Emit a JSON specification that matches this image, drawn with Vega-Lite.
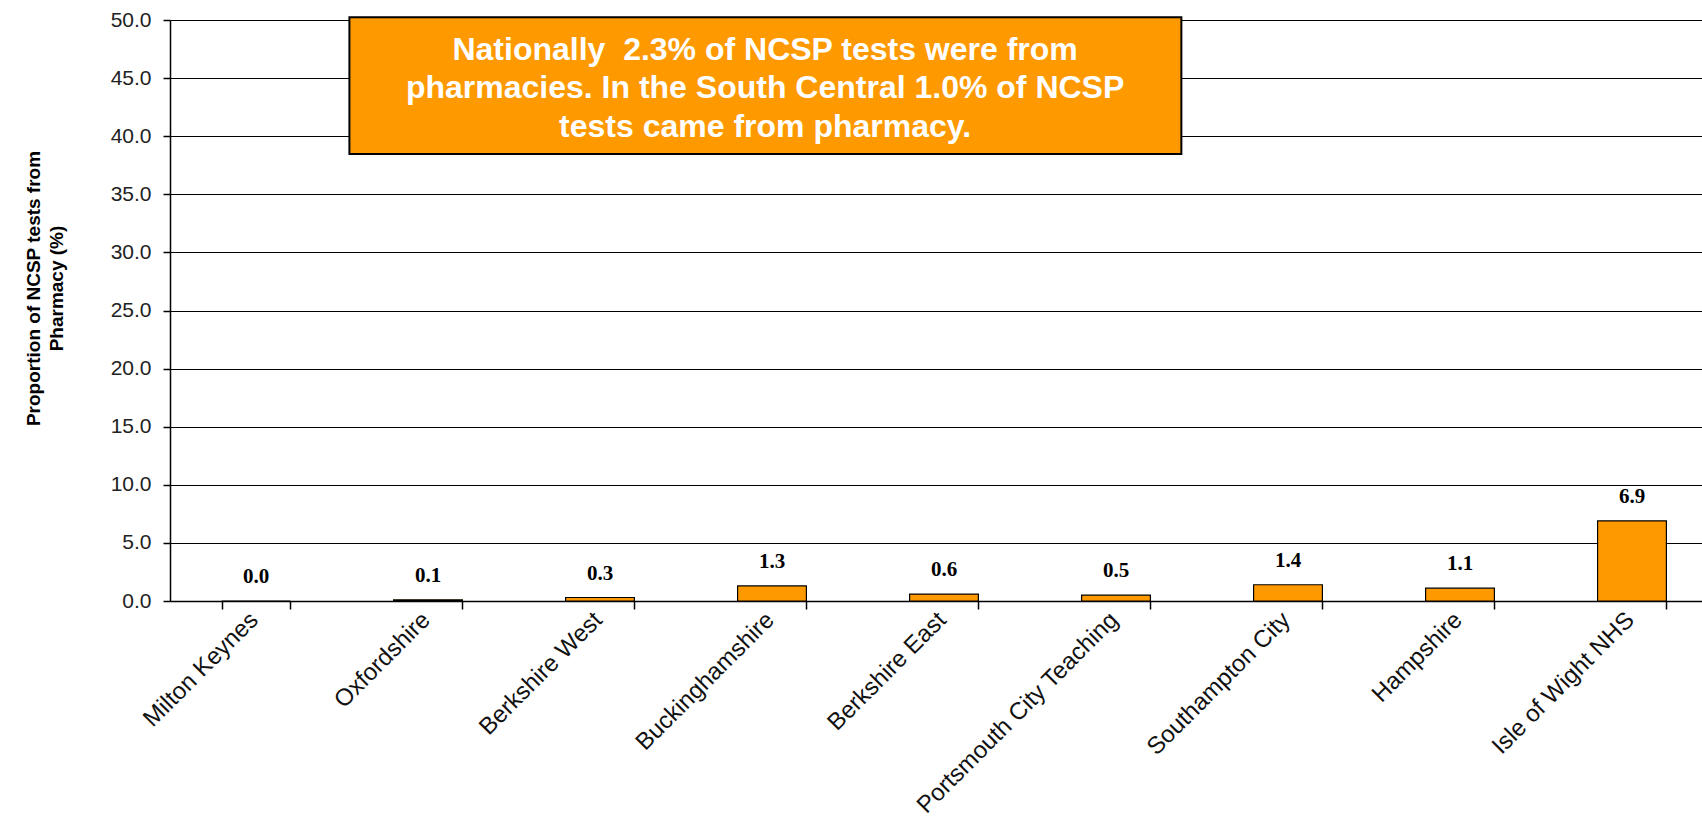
{
  "$schema": "https://vega.github.io/schema/vega-lite/v6.json",
  "width": 1548,
  "height": 581,
  "autosize": {"type": "none"},
  "padding": {"left": 170, "top": 20, "right": 0, "bottom": 223},
  "background": "white",
  "config": {"view": {"stroke": null}},
  "datasets": {
    "pct": [
      {"pct": "Milton Keynes", "value": 0.0},
      {"pct": "Oxfordshire", "value": 0.1},
      {"pct": "Berkshire West", "value": 0.3},
      {"pct": "Buckinghamshire", "value": 1.3},
      {"pct": "Berkshire East", "value": 0.6},
      {"pct": "Portsmouth City Teaching", "value": 0.5},
      {"pct": "Southampton City", "value": 1.4},
      {"pct": "Hampshire", "value": 1.1},
      {"pct": "Isle of Wight NHS", "value": 6.9}
    ],
    "note": [
      {"x1": 1.043, "x2": 5.88, "xc": 3.46, "y1": 38.47, "y2": 50.23, "yt": 46.56,
       "label": "Nationally \u00a02.3% of NCSP tests were from\npharmacies. In the South Central 1.0% of NCSP\ntests came from pharmacy."}
    ]
  },
  "layer": [
    {
      "data": {"name": "pct"},
      "layer": [
        {
          "mark": {"type": "bar", "fill": "#FF9900", "stroke": "#000000", "strokeWidth": 1.2},
          "encoding": {
            "x": {
              "field": "pct", "type": "nominal", "sort": null,
              "scale": {"paddingInner": 0.6, "paddingOuter": 0.3},
              "axis": {
                "title": null, "labelAngle": -45, "labelAlign": "right", "labelBaseline": "middle",
                "labelFont": "Liberation Sans", "labelFontSize": 24, "labelColor": "#111111",
                "labelPadding": 7, "labelOffset": -2, "labelLimit": 400,
                "tickBand": "extent", "tickSize": 8, "tickColor": "#000000", "tickWidth": 1.5,
                "domainColor": "#000000", "domainWidth": 1.5, "grid": false
              }
            },
            "y": {
              "field": "value", "type": "quantitative",
              "scale": {"domain": [0, 50], "nice": false},
              "axis": {
                "title": ["Proportion of NCSP tests from", "Pharmacy (%)"],
                "titleFont": "Liberation Sans", "titleFontSize": 19, "titleFontWeight": "bold",
                "titleColor": "#000000", "titleLineHeight": 23,
                "titleAngle": -90, "titleAlign": "center", "titleBaseline": "middle",
                "titleX": -137, "titleY": 268,
                "values": [0, 5, 10, 15, 20, 25, 30, 35, 40, 45, 50], "format": ".1f",
                "labelFont": "Liberation Sans", "labelFontSize": 21, "labelColor": "#222222",
                "labelPadding": 12, "tickSize": 7, "tickColor": "#000000", "tickWidth": 1.5,
                "domainColor": "#000000", "domainWidth": 1.5,
                "grid": true, "gridColor": "#000000", "gridWidth": 1.2
              }
            }
          }
        },
        {
          "mark": {"type": "text", "font": "Liberation Serif", "fontWeight": "bold", "fontSize": 21, "color": "#000000", "baseline": "middle", "dy": -24},
          "encoding": {
            "x": {"field": "pct", "type": "nominal", "sort": null},
            "y": {"field": "value", "type": "quantitative"},
            "text": {"field": "value", "type": "quantitative", "format": ".1f"}
          }
        }
      ]
    },
    {
      "data": {"name": "note"},
      "layer": [
        {
          "mark": {"type": "rect", "fill": "#FF9900", "stroke": "#000000", "strokeWidth": 2},
          "encoding": {
            "x": {"field": "x1", "type": "quantitative", "scale": {"domain": [0, 9], "nice": false, "zero": false}, "axis": null},
            "x2": {"field": "x2"},
            "y": {"field": "y1", "type": "quantitative"},
            "y2": {"field": "y2"}
          }
        },
        {
          "mark": {"type": "text", "font": "Liberation Sans", "fontWeight": "bold", "fontSize": 32, "color": "#FFFFFF", "align": "center", "baseline": "alphabetic", "lineBreak": "\n", "lineHeight": 38.4},
          "encoding": {
            "x": {"field": "xc", "type": "quantitative", "axis": null},
            "y": {"field": "yt", "type": "quantitative"},
            "text": {"field": "label", "type": "nominal"}
          }
        }
      ]
    }
  ],
  "resolve": {"scale": {"x": "independent"}}
}
